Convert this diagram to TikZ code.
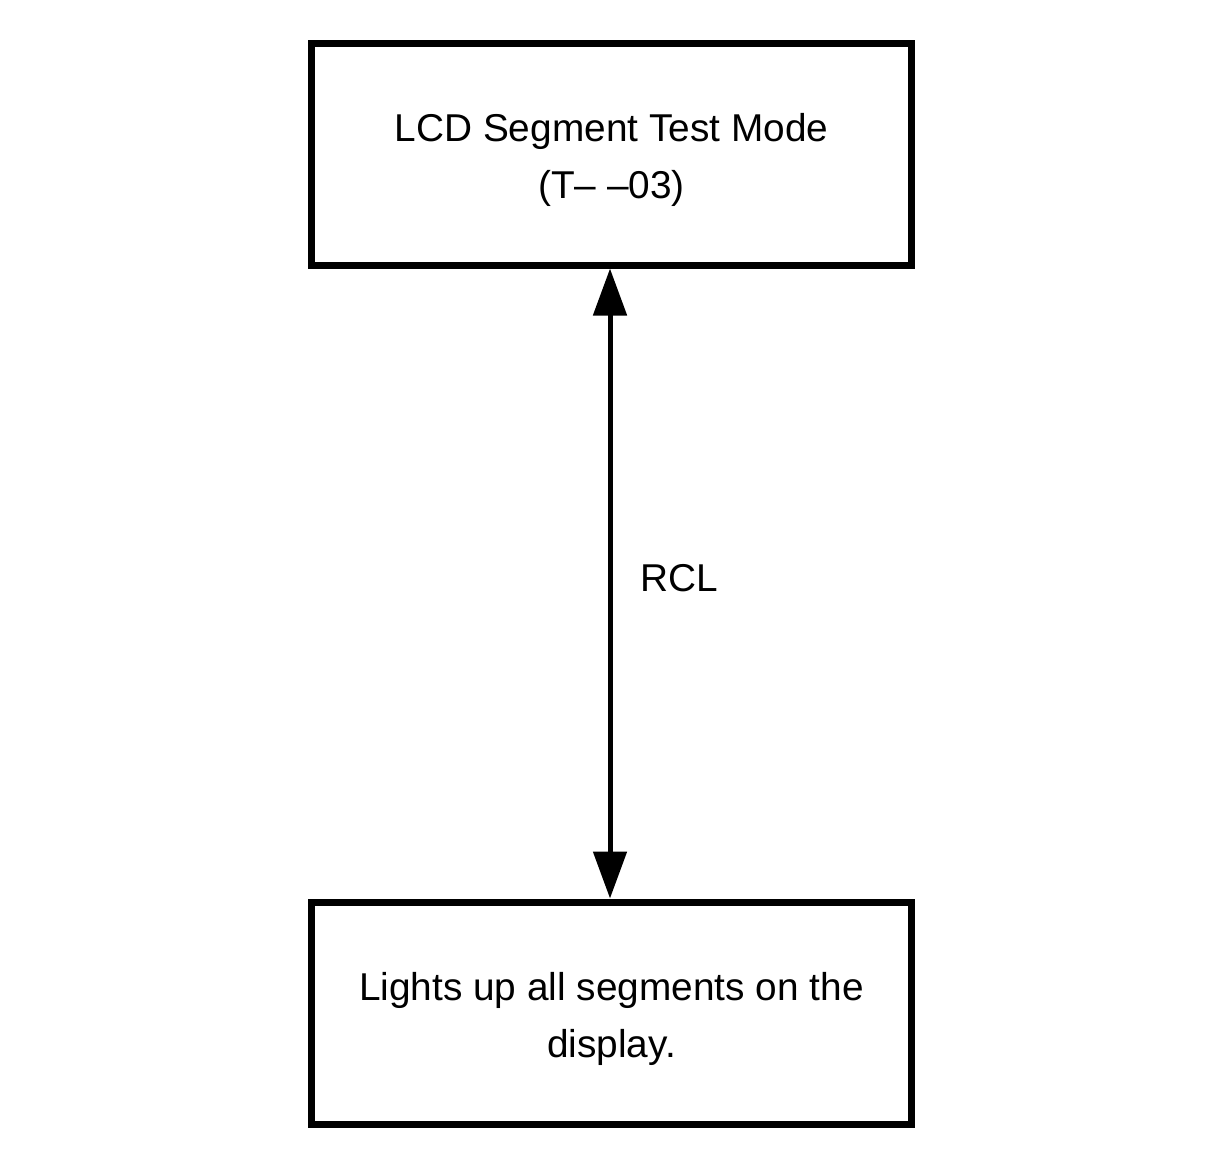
\documentclass[tikz,border=0pt]{standalone}
\usepackage{fontspec}
\setmainfont{Liberation Sans}
\usetikzlibrary{arrows.meta}
\begin{document}
\begin{tikzpicture}[x=1pt,y=-1pt,
  box/.style={draw=black,line width=7pt,minimum width=600pt,minimum height=222pt,inner sep=0pt},
  txt/.style={align=center,inner sep=0pt,font=\fontsize{38.8}{57}\selectfont},
  conn/.style={line width=5pt,{Triangle[width=33pt,length=47pt]}-{Triangle[width=33pt,length=47pt]}},
  lbl/.style={font=\fontsize{38.8}{45}\selectfont,inner sep=0pt}]
\useasboundingbox[fill=white] (0,0) rectangle (1223,1168);
\node[box] (top) at (611.5,154) {};
\node[txt] (toptext) at (611.5,160) {LCD Segment Test Mode\\(T– –03)};
\node[box] (bot) at (611.5,1013) {};
\node[txt] (bottext) at (611.5,1019) {Lights up all segments on the\\display.};
\draw[conn] (top.south -| 610,0) -- (bot.north -| 610,0);
\node[lbl,anchor=west] (rcl) at (640,578) {RCL};
\end{tikzpicture}
\end{document}
